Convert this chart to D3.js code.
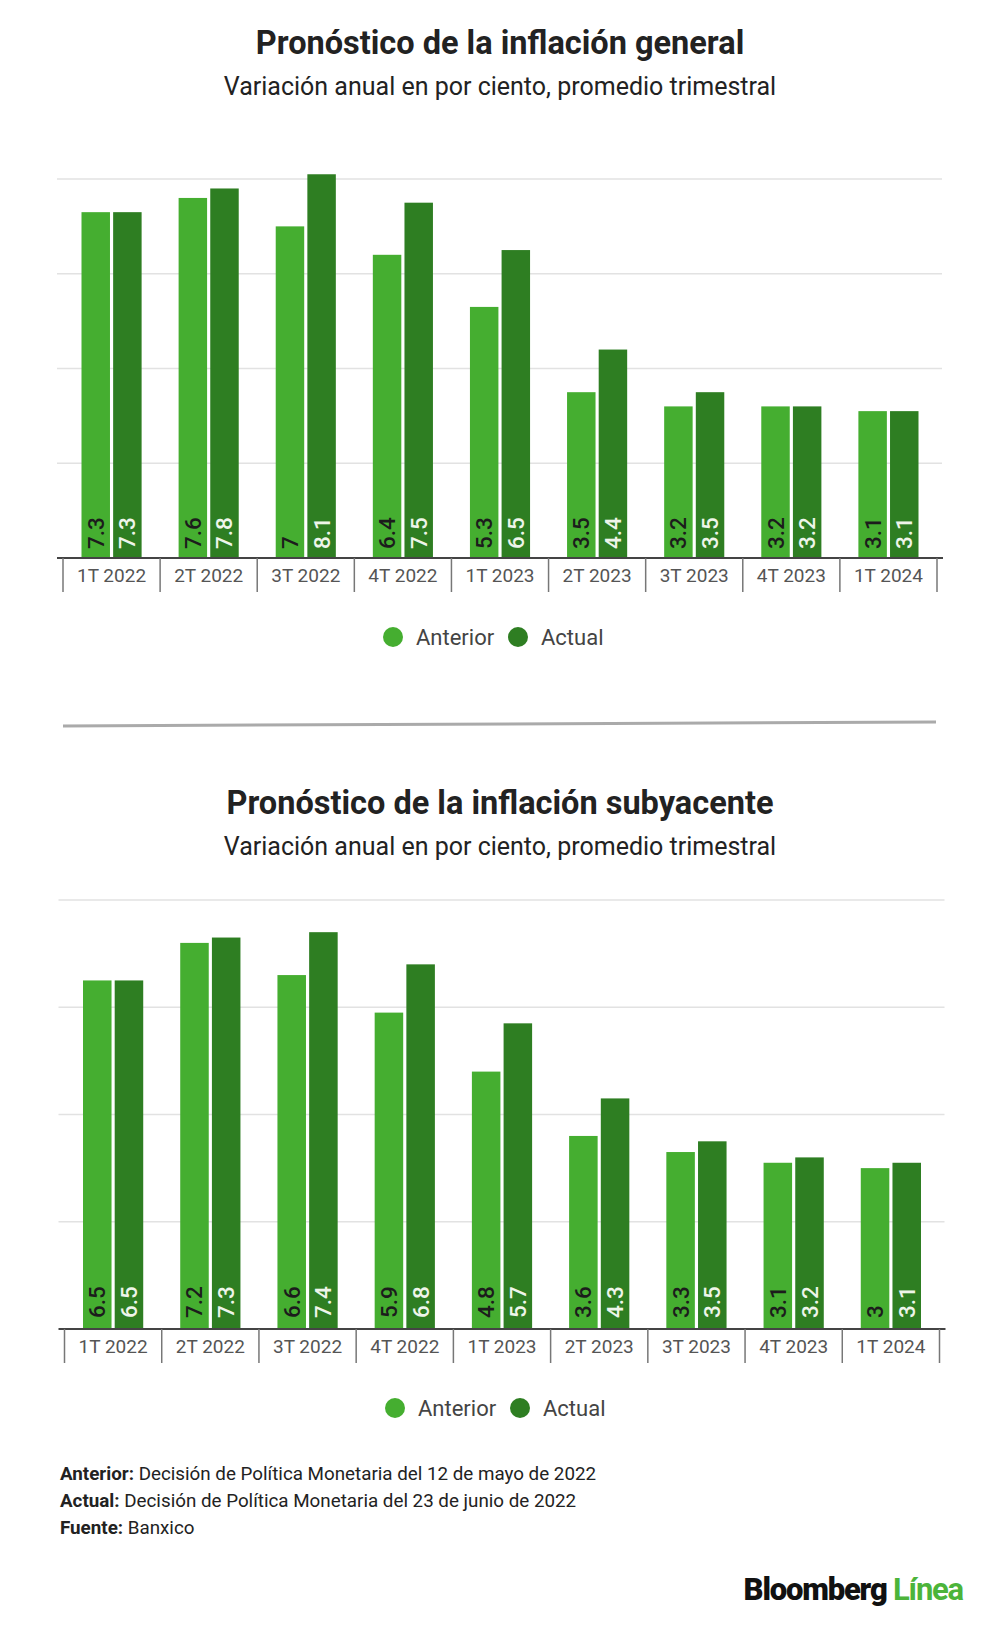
<!DOCTYPE html>
<html>
<head>
<meta charset="utf-8">
<script src="https://cdn.jsdelivr.net/npm/d3@7"></script>
<style>
  body { margin: 0; background: #fff; }
  svg { display: block; font-family: Roboto, "Noto Sans", sans-serif; }
</style>
</head>
<body>
<svg id="chart" width="1000" height="1628"></svg>
<script>
// quarters on the x axis
var quarters = ["1T 2022", "2T 2022", "3T 2022", "4T 2022", "1T 2023", "2T 2023", "3T 2023", "4T 2023", "1T 2024"];
var seriesNames = ["Anterior", "Actual"];

// general inflation forecast
var generalAnterior = [7.3, 7.6, 7, 6.4, 5.3, 3.5, 3.2, 3.2, 3.1];
var generalActual = [7.3, 7.8, 8.1, 7.5, 6.5, 4.4, 3.5, 3.2, 3.1];

// core inflation forecast
var coreAnterior = [6.5, 7.2, 6.6, 5.9, 4.8, 3.6, 3.3, 3.1, 3];
var coreActual = [6.5, 7.3, 7.4, 6.8, 5.7, 4.3, 3.5, 3.2, 3.1];

var gridTicks = [2, 4, 6, 8];

var LIGHT = "#45ae30";
var DARK = "#2e7e22";

var svg = d3.select("#chart");

function drawChart(onto, cfg) {
    var g = onto.append("g");

    // titles
    g.append("text")
        .attr("x", 500).attr("y", cfg.titleY)
        .attr("text-anchor", "middle")
        .attr("font-size", 32.5).attr("font-weight", 700)
        .attr("fill", "#222")
        .text(cfg.title);
    g.append("text")
        .attr("x", 500).attr("y", cfg.subY)
        .attr("text-anchor", "middle")
        .attr("font-size", 25)
        .attr("fill", "#222")
        .text("Variación anual en por ciento, promedio trimestral");

    var x0 = d3.scaleBand().domain(quarters).range([cfg.x0, cfg.x1]).padding(0);
    var x1 = d3.scaleBand().domain(seriesNames)
        .range([18.5, x0.bandwidth() - 18.5]).paddingInner(0.1);
    var y = d3.scaleLinear().domain([0, 8]).range([cfg.base, cfg.top]);

    // gridlines
    g.selectAll("line.grid").data(gridTicks).join("line")
        .attr("class", "grid")
        .attr("x1", cfg.x0 - 6).attr("x2", cfg.x1 + 5)
        .attr("y1", function (d) { return y(d); })
        .attr("y2", function (d) { return y(d); })
        .style("stroke", "#e2e2e2").style("stroke-width", 1.5);

    var rows = quarters.map(function (q, i) {
        return { q: q, vals: [cfg.anterior[i], cfg.actual[i]] };
    });

    var groups = g.selectAll("g.q").data(rows).join("g")
        .attr("class", "q")
        .attr("transform", function (d) { return "translate(" + x0(d.q) + ",0)"; });

    var cells = groups.selectAll("g.b")
        .data(function (d) { return d.vals.map(function (v, j) { return { s: seriesNames[j], v: v }; }); })
        .join("g").attr("class", "b");

    cells.append("rect")
        .attr("x", function (d) { return x1(d.s); })
        .attr("width", x1.bandwidth())
        .attr("y", function (d) { return y(d.v); })
        .attr("height", function (d) { return y(0) - y(d.v); })
        .attr("fill", function (d) { return d.s === "Anterior" ? LIGHT : DARK; });

    // vertical value labels at the bottom of each bar
    cells.append("text")
        .attr("transform", function (d) {
            return "translate(" + (x1(d.s) + x1.bandwidth() / 2 + 8) + "," + (y(0) - cfg.labelPad) + ") rotate(-90)";
        })
        .attr("font-size", 22.5)
        .attr("font-weight", 500)
        .attr("fill", function (d) { return d.s === "Anterior" ? "#1c1c1c" : "#eef5ea"; })
        .text(function (d) { return d.v; });

    // axis line
    g.append("line")
        .attr("x1", cfg.x0 - 6).attr("x2", cfg.x1 + 6)
        .attr("y1", y(0)).attr("y2", y(0))
        .style("stroke", "#444").style("stroke-width", 2);

    // tick marks on band boundaries
    var bounds = quarters.map(function (q) { return x0(q); }).concat([cfg.x1]);
    g.selectAll("line.tick").data(bounds).join("line")
        .attr("class", "tick")
        .attr("x1", function (d) { return d; }).attr("x2", function (d) { return d; })
        .attr("y1", y(0)).attr("y2", y(0) + 34)
        .style("stroke", "#777").style("stroke-width", 1.5);

    g.selectAll("text.cat").data(quarters).join("text")
        .attr("class", "cat")
        .attr("x", function (d) { return x0(d) + x0.bandwidth() / 2; })
        .attr("y", y(0) + 23.5)
        .attr("text-anchor", "middle")
        .attr("font-size", 19)
        .attr("fill", "#555")
        .text(function (d) { return d; });

    // legend
    var leg = g.append("g").attr("transform", "translate(" + cfg.legX + "," + (y(0) + 79) + ")");
    var legX = [0, 125];
    seriesNames.forEach(function (s, i) {
        leg.append("circle")
            .attr("cx", legX[i]).attr("cy", 0).attr("r", 10)
            .attr("fill", i === 0 ? LIGHT : DARK);
        leg.append("text")
            .attr("x", legX[i] + 23).attr("y", 8)
            .attr("font-size", 22)
            .attr("fill", "#444")
            .text(s);
    });
}

drawChart(svg, {
    title: "Pronóstico de la inflación general",
    titleY: 54, subY: 95,
    top: 179, base: 558,
    x0: 63, x1: 937, labelPad: 9,
    legX: 393,
    anterior: generalAnterior, actual: generalActual
});

// separator between the two charts
svg.append("line")
    .attr("x1", 63).attr("y1", 726)
    .attr("x2", 936).attr("y2", 722)
    .style("stroke", "#aaa").style("stroke-width", 3);

drawChart(svg, {
    title: "Pronóstico de la inflación subyacente",
    titleY: 814, subY: 855,
    top: 900, base: 1329,
    x0: 64.5, x1: 939.5, labelPad: 11,
    legX: 395,
    anterior: coreAnterior, actual: coreActual
});

// notes
var notes = [
    ["Anterior:", " Decisión de Política Monetaria del 12 de mayo de 2022"],
    ["Actual:", " Decisión de Política Monetaria del 23 de junio de 2022"],
    ["Fuente:", " Banxico"]
];
var noteG = svg.append("g");
notes.forEach(function (n, i) {
    var t = noteG.append("text")
        .attr("x", 60).attr("y", 1480 + i * 27)
        .attr("font-size", 18.8)
        .attr("fill", "#222");
    t.append("tspan").attr("font-weight", 700).text(n[0]);
    t.append("tspan").text(n[1]);
});

// logo
var logo = svg.append("text")
    .attr("x", 963).attr("y", 1600)
    .attr("text-anchor", "end")
    .attr("font-size", 31)
    .attr("font-weight", 900)
    .attr("letter-spacing", -1.2);
logo.append("tspan").attr("fill", "#111").text("Bloomberg ");
logo.append("tspan").attr("fill", "#4cb43a").attr("font-weight", 700).text("Línea");
</script>
</body>
</html>
